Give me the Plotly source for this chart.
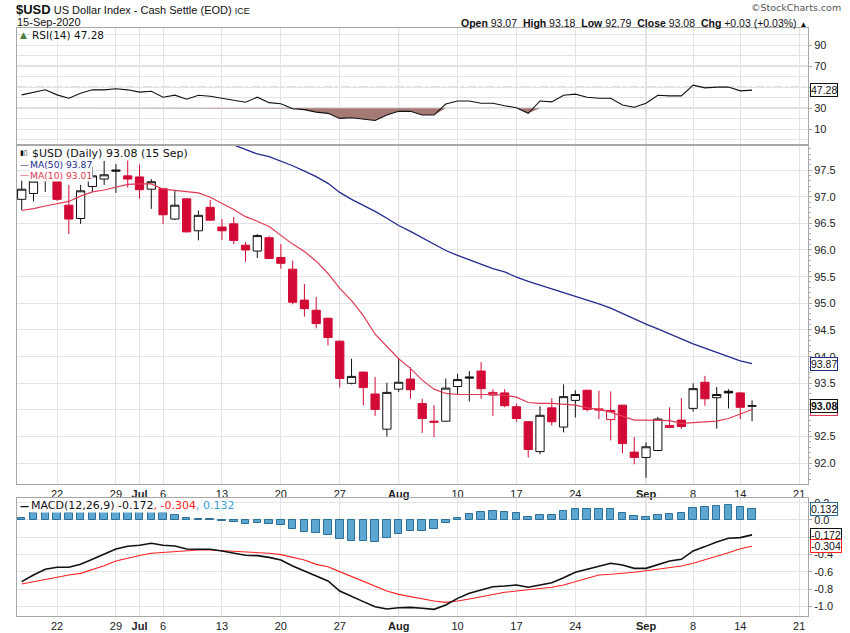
import numpy as np
import plotly.graph_objects as go

# trading days shown (Jul 3 and Sep 7 holidays skipped)
dates = ["2020-06-17", "2020-06-18", "2020-06-19", "2020-06-22", "2020-06-23", "2020-06-24",
         "2020-06-25", "2020-06-26", "2020-06-29", "2020-06-30", "2020-07-01", "2020-07-02",
         "2020-07-06", "2020-07-07", "2020-07-08", "2020-07-09", "2020-07-10", "2020-07-13",
         "2020-07-14", "2020-07-15", "2020-07-16", "2020-07-17", "2020-07-20", "2020-07-21",
         "2020-07-22", "2020-07-23", "2020-07-24", "2020-07-27", "2020-07-28", "2020-07-29",
         "2020-07-30", "2020-07-31", "2020-08-03", "2020-08-04", "2020-08-05", "2020-08-06",
         "2020-08-07", "2020-08-10", "2020-08-11", "2020-08-12", "2020-08-13", "2020-08-14",
         "2020-08-17", "2020-08-18", "2020-08-19", "2020-08-20", "2020-08-21", "2020-08-24",
         "2020-08-25", "2020-08-26", "2020-08-27", "2020-08-28", "2020-08-31", "2020-09-01",
         "2020-09-02", "2020-09-03", "2020-09-04", "2020-09-08", "2020-09-09", "2020-09-10",
         "2020-09-11", "2020-09-14", "2020-09-15"]
future_dates = ["2020-09-16", "2020-09-17", "2020-09-18", "2020-09-21"]

opens = [96.95, 97.06, 97.30, 97.30, 96.84, 96.59, 97.19, 97.33, 97.50, 97.39,
         97.37, 97.14, 97.15, 96.58, 96.96, 96.36, 96.80, 96.43, 96.49, 96.09,
         95.98, 96.23, 95.86, 95.64, 95.06, 94.87, 94.72, 94.29, 93.50, 93.71,
         93.30, 92.64, 93.39, 93.58, 93.12, 92.79, 92.79, 93.44, 93.62, 93.73,
         93.28, 93.32, 93.06, 92.78, 92.22, 93.04, 92.68, 93.18, 93.37, 93.02,
         92.82, 93.09, 92.21, 92.11, 92.24, 92.67, 92.81, 93.03, 93.52, 93.23,
         93.35, 93.32, 93.07]
highs = [97.30, 97.47, 97.52, 97.40, 97.22, 97.22, 97.56, 97.67, 97.61, 97.71,
         97.60, 97.33, 97.16, 97.11, 96.97, 96.74, 96.94, 96.58, 96.62, 96.15,
         96.30, 96.26, 96.11, 95.80, 95.36, 95.12, 94.73, 94.30, 93.96, 93.72,
         93.62, 93.51, 93.96, 93.80, 93.21, 93.09, 93.59, 93.68, 93.73, 93.90,
         93.39, 93.39, 93.12, 92.79, 93.07, 93.22, 93.48, 93.37, 93.38, 93.36,
         93.35, 93.10, 92.49, 92.39, 92.87, 93.05, 93.22, 93.50, 93.64, 93.43,
         93.39, 93.34, 93.18]
lows = [96.75, 96.91, 97.09, 96.92, 96.30, 96.49, 97.09, 97.22, 97.07, 97.17,
        96.96, 96.77, 96.49, 96.56, 96.33, 96.18, 96.55, 96.19, 96.11, 95.78,
        95.85, 95.84, 95.65, 94.98, 94.75, 94.53, 94.21, 93.42, 93.48, 93.09,
        92.89, 92.50, 93.34, 93.21, 92.57, 92.49, 92.78, 93.29, 93.16, 93.21,
        92.89, 93.05, 92.78, 92.11, 92.17, 92.71, 92.58, 92.86, 92.97, 92.83,
        92.43, 92.19, 91.98, 91.73, 92.23, 92.67, 92.64, 92.97, 93.08, 92.65,
        93.03, 92.83, 92.79]
closes = [97.14, 97.29, 97.36, 96.95, 96.58, 97.11, 97.39, 97.41, 97.48, 97.33,
          97.13, 97.28, 96.66, 96.84, 96.34, 96.65, 96.56, 96.36, 96.18, 96.00,
          96.27, 95.84, 95.75, 95.02, 94.90, 94.62, 94.36, 93.59, 93.63, 93.42,
          93.01, 93.33, 93.52, 93.38, 92.84, 92.77, 93.41, 93.57, 93.60, 93.40,
          93.33, 93.08, 92.84, 92.26, 92.90, 92.78, 93.25, 93.29, 93.01, 93.00,
          92.99, 92.37, 92.11, 92.31, 92.83, 92.71, 92.69, 93.40, 93.21, 93.29,
          93.32, 93.05, 93.08]

ma10 = [96.74, 96.775, 96.825, 96.87, 96.91, 97.01, 97.09, 97.125, 97.175, 97.23,
        97.24, 97.24, 97.14, 97.12, 97.10, 97.07, 96.99, 96.875, 96.76, 96.625,
        96.54, 96.44, 96.27, 96.11, 95.97, 95.79, 95.56, 95.28, 95.05, 94.77,
        94.42, 94.19, 93.96, 93.78, 93.56, 93.39, 93.31, 93.29, 93.29, 93.29,
        93.29, 93.275, 93.24, 93.14, 93.125, 93.125, 93.11, 93.09, 93.04, 93.01,
        92.96, 92.89, 92.81, 92.81, 92.81, 92.80, 92.75, 92.76, 92.775, 92.79,
        92.84, 92.92, 93.01]
# MA(50) is above the visible range before mid-July
ma50 = [None] * 18 + [
        97.97, 97.88, 97.80, 97.75, 97.67, 97.58, 97.48, 97.375, 97.25, 97.08,
        96.95, 96.84, 96.725, 96.595, 96.46, 96.35, 96.23, 96.10, 95.99, 95.90,
        95.82, 95.74, 95.65, 95.59, 95.49, 95.41, 95.34, 95.275, 95.21, 95.14,
        95.07, 94.99, 94.91, 94.81, 94.70, 94.61, 94.52, 94.425, 94.325, 94.24,
        94.16, 94.08, 94.01, 93.92, 93.87]

rsi = [42.8, 45.0, 47.6, 42.8, 39.6, 44.4, 47.6, 47.6, 48.6, 47.6,
       45.4, 46.3, 40.6, 42.5, 38.7, 42.5, 41.5, 39.6, 37.7, 35.8,
       40.6, 35.4, 34.4, 29.6, 28.7, 26.4, 25.2, 20.4, 21.0, 20.0,
       18.4, 23.6, 27.1, 27.1, 23.6, 23.6, 34.1, 37.0, 37.0, 34.8,
       34.8, 32.5, 30.6, 25.2, 37.0, 36.1, 42.5, 43.5, 40.6, 39.6,
       39.6, 33.2, 31.0, 34.8, 42.5, 41.8, 41.8, 52.1, 49.5, 50.2,
       50.2, 46.6, 47.28]

macd = [-0.713, -0.636, -0.570, -0.547, -0.547, -0.513, -0.455, -0.393, -0.335, -0.304,
        -0.293, -0.270, -0.293, -0.301, -0.335, -0.339, -0.339, -0.358, -0.385, -0.408,
        -0.412, -0.432, -0.462, -0.532, -0.590, -0.647, -0.705, -0.821, -0.887, -0.944,
        -1.002, -1.029, -1.014, -1.010, -1.021, -1.033, -0.983, -0.906, -0.848, -0.809,
        -0.771, -0.763, -0.751, -0.778, -0.755, -0.725, -0.667, -0.605, -0.570, -0.532,
        -0.501, -0.520, -0.559, -0.559, -0.513, -0.474, -0.455, -0.358, -0.308, -0.254,
        -0.212, -0.204, -0.172]
signal = [-0.740, -0.713, -0.682, -0.659, -0.636, -0.617, -0.575, -0.530, -0.475, -0.440,
          -0.410, -0.385, -0.374, -0.362, -0.355, -0.347, -0.347, -0.355, -0.366, -0.370,
          -0.374, -0.385, -0.401, -0.432, -0.462, -0.513, -0.540, -0.597, -0.655, -0.713,
          -0.771, -0.821, -0.860, -0.887, -0.906, -0.937, -0.952, -0.937, -0.913, -0.887,
          -0.859, -0.836, -0.821, -0.809, -0.790, -0.778, -0.751, -0.713, -0.674, -0.636,
          -0.628, -0.617, -0.605, -0.586, -0.570, -0.551, -0.532, -0.501, -0.462, -0.416,
          -0.378, -0.332, -0.304]
hist = [0.019, 0.077, 0.104, 0.104, 0.077, 0.104, 0.104, 0.104, 0.104, 0.104,
        0.104, 0.104, 0.077, 0.058, 0.019, 0.008, 0.008, -0.015, -0.027, -0.046,
        -0.039, -0.050, -0.058, -0.108, -0.135, -0.154, -0.173, -0.223, -0.239, -0.239,
        -0.250, -0.212, -0.162, -0.123, -0.123, -0.108, -0.039, 0.019, 0.069, 0.088,
        0.100, 0.088, 0.077, 0.031, 0.054, 0.054, 0.100, 0.123, 0.123, 0.123,
        0.123, 0.077, 0.046, 0.031, 0.054, 0.066, 0.077, 0.135, 0.150, 0.162,
        0.173, 0.150, 0.132]

tick_dates = ["2020-06-22", "2020-06-29", "2020-07-01", "2020-07-06", "2020-07-13",
              "2020-07-20", "2020-07-27", "2020-08-03", "2020-08-10", "2020-08-17",
              "2020-08-24", "2020-09-01", "2020-09-08", "2020-09-14", "2020-09-21"]
tick_text = ["22", "29", "<b>Jul</b>", "6", "13", "20", "27", "<b>Aug</b>", "10", "17",
             "24", "<b>Sep</b>", "8", "14", "21"]
month_dates = ["2020-07-01", "2020-08-03", "2020-09-01"]

RED = "#d20a35"
NAVY = "#232a8e"
MA_RED = "#e03a55"
GRID = "#e4e4e4"
BORDER = "#a8a8a8"
AXFONT = dict(family="Liberation Sans, Arial", size=11, color="#222")
LEGFONT = "DejaVu Sans, Verdana"

axis_dates = dates + future_dates
x = list(range(len(dates)))
tickvals = [axis_dates.index(d) for d in tick_dates]
month_x = [axis_dates.index(d) for d in month_dates]
xr = [-0.4, 66.75]

fig = go.Figure()

# candles: black when close >= previous close, red otherwise
up_day = [i == 0 or closes[i] >= closes[i - 1] for i in x]
for is_up, col, fill_down in [(True, "#111111", "#111111"), (False, RED, RED)]:
    idx = [i for i in x if up_day[i] == is_up]
    fig.add_trace(go.Candlestick(
        x=idx, open=[opens[i] for i in idx], high=[highs[i] for i in idx],
        low=[lows[i] for i in idx], close=[closes[i] for i in idx],
        increasing=dict(line=dict(color=col, width=1), fillcolor="white"),
        decreasing=dict(line=dict(color=col, width=1), fillcolor=fill_down),
        whiskerwidth=0, xaxis="x", yaxis="y", hoverinfo="skip"))

fig.add_trace(go.Scatter(x=x, y=ma50, mode="lines", line=dict(color=NAVY, width=1.3),
                         xaxis="x", yaxis="y"))
fig.add_trace(go.Scatter(x=x, y=ma10, mode="lines", line=dict(color=MA_RED, width=1.2),
                         xaxis="x", yaxis="y"))

# RSI panel
fig.add_trace(go.Scatter(x=x, y=[30] * len(x), mode="lines", line=dict(width=0),
                         xaxis="x2", yaxis="y2", hoverinfo="skip"))
fig.add_trace(go.Scatter(x=x, y=np.minimum(rsi, 30), mode="lines", line=dict(width=0),
                         fill="tonexty", fillcolor="#a67a74", xaxis="x2", yaxis="y2",
                         hoverinfo="skip"))
fig.add_trace(go.Scatter(x=x, y=rsi, mode="lines", line=dict(color="#111", width=1.1),
                         xaxis="x2", yaxis="y2"))

# MACD panel
fig.add_trace(go.Bar(x=x, y=hist, width=0.64, marker=dict(color="#5ba7d2",
                     line=dict(color="#2d6f96", width=1)), xaxis="x3", yaxis="y3"))
fig.add_trace(go.Scatter(x=x, y=signal, mode="lines", line=dict(color="#ff2020", width=1.1),
                         xaxis="x3", yaxis="y3"))
fig.add_trace(go.Scatter(x=x, y=macd, mode="lines", line=dict(color="#111", width=1.6),
                         xaxis="x3", yaxis="y3"))

xbase = dict(range=xr, tickvals=tickvals, ticktext=tick_text, showgrid=True, gridcolor=GRID,
             zeroline=False, showline=True, mirror=True, linecolor=BORDER, ticks="",
             tickfont=AXFONT, fixedrange=True)
ybase = dict(side="right", showgrid=True, gridcolor=GRID, zeroline=False, showline=True,
             mirror=True, linecolor=BORDER, ticks="outside", ticklen=3, tickcolor=BORDER,
             tickfont=AXFONT, fixedrange=True)

X0, X1 = 17 / 850, 808 / 850
fig.update_layout(
    width=850, height=633, margin=dict(l=0, r=0, t=0, b=0),
    paper_bgcolor="white", plot_bgcolor="white", showlegend=False,
    boxgap=0.3, boxgroupgap=0.0, bargap=0,
    xaxis=dict(xbase, domain=[X0, X1], anchor="y", rangeslider=dict(visible=False)),
    xaxis2=dict(xbase, domain=[X0, X1], anchor="y2", showticklabels=False),
    xaxis3=dict(xbase, domain=[X0, X1], anchor="y3"),
    yaxis=dict(ybase, domain=[1 - 484 / 633, 1 - 146 / 633], range=[91.612, 97.95],
               dtick=0.5, tickformat=".1f", anchor="x",
               minor=dict(dtick=0.1, ticks="outside", ticklen=2, tickcolor="#b0b0b0",
                          showgrid=False)),
    yaxis2=dict(ybase, domain=[1 - 144 / 633, 1 - 28 / 633], range=[-4.0, 106.5],
                tickvals=[10, 30, 50, 70, 90], anchor="x2",
                minor=dict(dtick=10, showgrid=True, gridcolor=GRID, ticks="")),
    yaxis3=dict(ybase, domain=[1 - 616 / 633, 1 - 498 / 633], range=[-1.11, 0.254],
                tickvals=[0.2, 0.0, -0.2, -0.4, -0.6, -0.8, -1.0],
                ticktext=["0.2", "0.0", "-0.2", "-0.4", "-0.6", "-0.8", "-1.0"], anchor="x3"),
)

# darker month grid lines in every panel
for xa, ya in [("x", "y"), ("x2", "y2"), ("x3", "y3")]:
    for mx in month_x:
        fig.add_shape(type="line", x0=mx, x1=mx, y0=0, y1=1, xref=xa, yref=ya + " domain",
                      line=dict(color="#c4c4c4", width=1), layer="below")

# RSI reference lines
for lvl, dash in [(70, "solid"), (30, "solid"), (50, "dashdot")]:
    fig.add_shape(type="line", x0=0, x1=1, y0=lvl, y1=lvl, xref="x2 domain", yref="y2",
                  line=dict(color="#5c5c5c", width=1, dash=dash), layer="below")


def px(v):
    return v / 850


def py(v):
    return 1 - v / 633


def add_text(xp, yp, text, size, color="#111", family="Liberation Sans, Arial",
             anchor="left", bg=None):
    fig.add_annotation(x=px(xp), y=py(yp), xref="paper", yref="paper", text=text,
                       showarrow=False, xanchor=anchor, yanchor="middle",
                       font=dict(family=family, size=size, color=color),
                       bgcolor=bg, borderpad=0)


def add_tag(yref, yval, text, color, bold=False):
    # value flag sitting just right of the plot area
    fig.add_annotation(x=px(810), y=yval, xref="paper", yref=yref, xanchor="left",
                       yanchor="middle", text=f"<b>{text}</b>" if bold else text,
                       showarrow=False, bgcolor="white", bordercolor=color,
                       borderwidth=1, borderpad=0,
                       font=dict(family="Liberation Sans, Arial", size=10.5, color="#111"))


# header
add_text(15, 10, "<span style='font-size:13px'><b>$USD</b></span> US Dollar Index - "
         "Cash Settle (EOD) <span style='font-size:9px'>ICE</span>", 11)
add_text(16, 22, "15-Sep-2020", 11)
add_text(842, 8, "©StockCharts.com", 9.5, color="#555", family=LEGFONT, anchor="right")
add_text(808, 23, "<b>Open</b> 93.07&nbsp;&nbsp;<b>High</b> 93.18&nbsp;&nbsp;<b>Low</b> 92.79"
         "&nbsp;&nbsp;<b>Close</b> 93.08&nbsp;&nbsp;<b>Chg</b> +0.03 (+0.03%) "
         "<span style='font-size:8px'>▲</span>", 10.5, anchor="right")

# panel legends
add_text(19, 35, "<span style='color:#4a7d3c'>▲</span>", 9, family=LEGFONT)
add_text(31, 35, "RSI(14) 47.28", 10.5, family=LEGFONT, bg="white")
add_text(19, 153.5, "<b>▮▯</b>", 7, family=LEGFONT)
add_text(31, 153.5, "$USD (Daily) 93.08 (15 Sep)", 11, family=LEGFONT, bg="white")
add_text(19, 164.5, f"<span style='color:{NAVY}'>—</span>", 9, family=LEGFONT)
add_text(29, 164.5, "MA(50) 93.87", 9.2, color=NAVY, family=LEGFONT, bg="white")
add_text(19, 175, f"<span style='color:{MA_RED}'>—</span>", 9, family=LEGFONT)
add_text(29, 175, "MA(10) 93.01", 9.2, color=MA_RED, family=LEGFONT, bg="white")
add_text(19, 505.5, "<b>—</b>", 9, family=LEGFONT)
add_text(30, 505.5, "MACD(12,26,9) -0.172<span style='color:#ff2020'>, -0.304</span>"
         "<span style='color:#3aa0d8'>, 0.132</span>", 11, family=LEGFONT, bg="white")

# last-value tags on the right axes
add_tag("y2", 47.28, "47.28", "#111")
add_tag("y", 93.87, "93.87", NAVY)
add_tag("y", 93.01, "93.01", MA_RED)
add_tag("y", 93.08, "93.08", "#111", bold=True)
add_tag("y3", 0.132, "0.132", "#2d6f96")
add_tag("y3", -0.172, "-0.172", "#111")
add_tag("y3", -0.304, "-0.304", "#ff2020")

# the page's default body margin would push the 850x633 figure off the window
fig.write_html("out.html", config={"displayModeBar": False},
               post_script="document.body.style.margin='0';"
                           "document.body.style.overflow='hidden';")
